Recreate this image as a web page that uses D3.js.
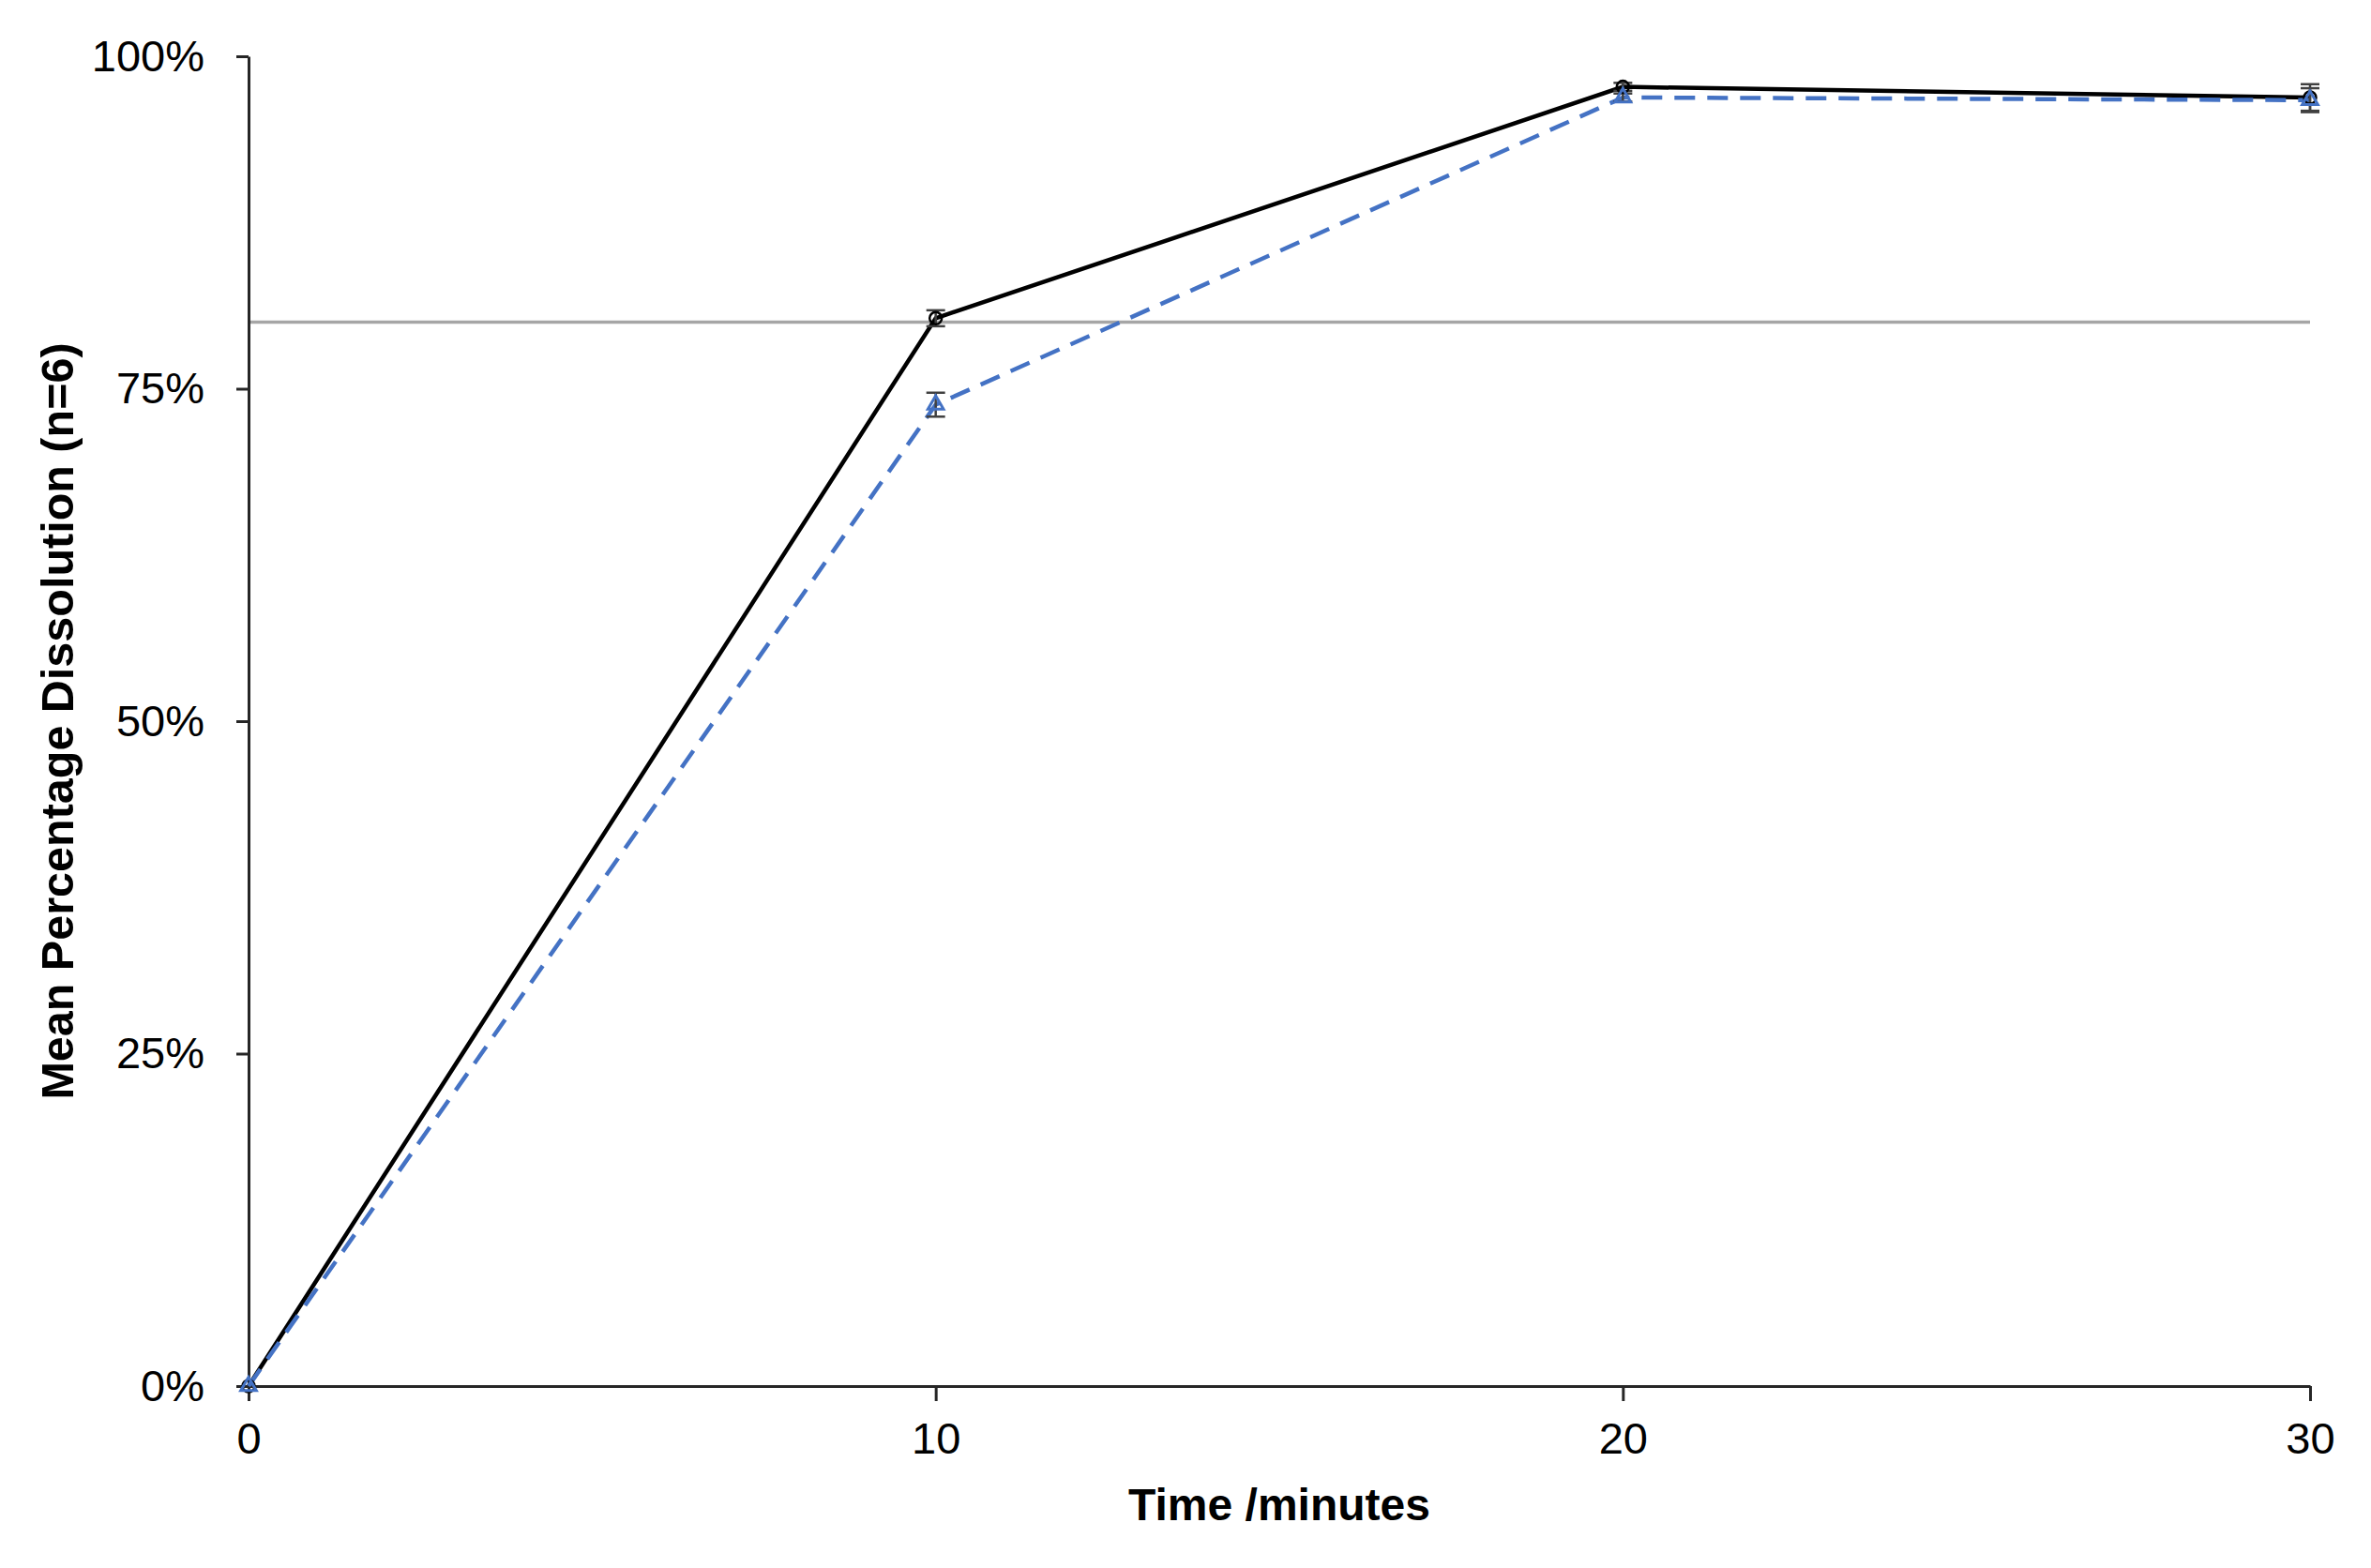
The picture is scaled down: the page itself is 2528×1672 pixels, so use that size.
<!DOCTYPE html>
<html><head><meta charset="utf-8">
<script src="https://cdn.jsdelivr.net/npm/d3@7"></script>
<style>html,body{margin:0;padding:0;background:#fff;}svg{display:block;}</style>
</head><body>
<script>
const times = [0, 10, 20, 30];
const seriesA = [0, 80.3, 97.7, 96.9];   // black solid, circles
const errA    = [0, 0.6, 0.3, 1.0];
const seriesB = [0, 73.8, 96.9, 96.7];   // blue dashed, triangles
const errB    = [0, 0.9, 0.3, 0.9];
const xTicks = [0, 10, 20, 30];
const yTicks = [0, 25, 50, 75, 100];
const refLevel = 80;

const W = 2528, H = 1672;
const m = {left: 265, right: 2528 - 2463, top: 60, bottom: 1672 - 1478};
const svg = d3.select("body").append("svg").attr("width", W).attr("height", H);
const x = d3.scaleLinear().domain([0, 30]).range([m.left, W - m.right]);
const y = d3.scaleLinear().domain([0, 100]).range([H - m.bottom, m.top]);
const font = "'Liberation Sans', Arial, sans-serif";

// reference line
svg.append("line").attr("x1", x(0)).attr("x2", x(30)).attr("y1", y(refLevel)).attr("y2", y(refLevel))
  .attr("stroke", "#a6a6a6").attr("stroke-width", 3.5);

// axes
const xAxis = svg.append("g").attr("transform", `translate(0,${y(0)})`)
  .call(d3.axisBottom(x).tickValues(xTicks).tickSize(16).tickSizeOuter(0).tickPadding(23).tickFormat(d3.format("d")));
const yAxis = svg.append("g").attr("transform", `translate(${x(0)},0)`)
  .call(d3.axisLeft(y).tickValues(yTicks).tickSize(13).tickSizeOuter(0).tickPadding(34).tickFormat(d => d + "%"));
[xAxis, yAxis].forEach(g => {
  g.select(".domain").attr("stroke", "#262626").attr("stroke-width", 3);
  g.selectAll(".tick line").attr("stroke", "#262626").attr("stroke-width", 3);
  g.selectAll("text").attr("font-family", font).attr("font-size", 47).attr("fill", "#000");
});

// lines
const line = d3.line().x((d, i) => x(times[i])).y(d => y(d));
svg.append("path").datum(seriesA).attr("d", line).attr("fill", "none").attr("stroke", "#000").attr("stroke-width", 4.5);
svg.append("path").datum(seriesB).attr("d", line).attr("fill", "none").attr("stroke", "#4472C4").attr("stroke-width", 4.5)
  .attr("stroke-dasharray", "22,13");

// error bars
function errBars(vals, errs) {
  const g = svg.append("g").attr("stroke", "#404040").attr("stroke-width", 2.5);
  vals.forEach((v, i) => {
    if (errs[i] <= 0) return;
    const cx = x(times[i]), y1 = y(v + errs[i]), y2 = y(v - errs[i]);
    g.append("line").attr("x1", cx).attr("x2", cx).attr("y1", y1).attr("y2", y2);
    g.append("line").attr("x1", cx - 10).attr("x2", cx + 10).attr("y1", y1).attr("y2", y1);
    g.append("line").attr("x1", cx - 10).attr("x2", cx + 10).attr("y1", y2).attr("y2", y2);
  });
}
errBars(seriesA, errA);
errBars(seriesB, errB);

// markers
svg.append("g").selectAll("circle").data(seriesA).join("circle")
  .attr("cx", (d, i) => x(times[i])).attr("cy", d => y(d)).attr("r", 6.5)
  .attr("fill", "none").attr("stroke", "#000").attr("stroke-width", 2.5);
svg.append("g").selectAll("path").data(seriesB).join("path")
  .attr("transform", (d, i) => `translate(${x(times[i])},${y(d)})`)
  .attr("d", d3.symbol().type(d3.symbolTriangle).size(120))
  .attr("fill", "none").attr("stroke", "#4472C4").attr("stroke-width", 3);

// axis titles
svg.append("text").attr("x", (x(0) + x(30)) / 2).attr("y", 1621).attr("text-anchor", "middle")
  .attr("font-family", font).attr("font-weight", "bold").attr("font-size", 48).text("Time /minutes");
svg.append("text").attr("transform", `translate(78,${(y(0) + y(100)) / 2}) rotate(-90)`).attr("text-anchor", "middle")
  .attr("font-family", font).attr("font-weight", "bold").attr("font-size", 48.5).text("Mean Percentage Dissolution (n=6)");
</script>
</body></html>
